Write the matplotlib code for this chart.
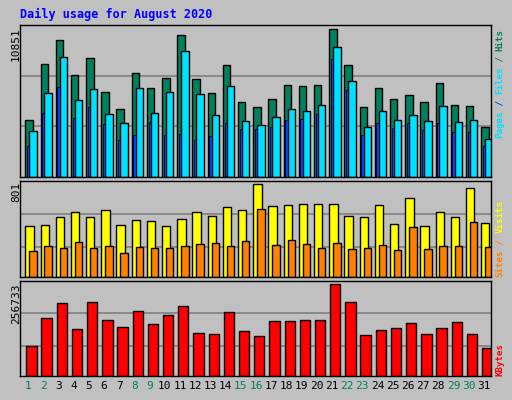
import matplotlib
matplotlib.use("Agg")
import matplotlib.pyplot as plt
import numpy as np

days = list(range(1, 32))
hits = [4223,8273,10041,7463,8715,6211,5033,7611,6506,7242,10409,7169,6138,8200,5548,5180,5696,6727,6653,6727,10851,8200,5180,6506,5696,5990,5548,6874,5327,5254,3707]
files = [3412,6138,8789,5622,6432,4664,4002,6506,4738,6211,9231,6064,4591,6653,4149,3854,4444,5033,4885,5327,9525,7021,3707,4885,4223,4591,4149,5254,4075,4223,2823]
pages = [2259,4738,6579,4370,5180,3928,2750,3118,4075,3118,3192,2750,3044,4002,3560,3560,3707,4223,4296,4664,8642,6358,3118,4002,3633,4002,3486,4002,3339,3339,2308]
visits = [435,444,514,557,514,575,444,488,479,435,496,557,522,601,575,801,609,618,627,627,627,522,514,618,453,679,435,557,514,766,461]
sites = [218,261,244,296,244,261,200,252,244,244,261,279,287,261,305,583,270,313,279,244,287,235,244,270,226,427,235,261,261,470,252]
kbytes = [85267,161164,203329,130243,206140,155542,135865,180841,144298,169597,194896,118999,116188,178030,124621,110566,152731,152731,155542,155542,256733,206140,113377,127432,133054,147109,116188,133054,149920,116188,79645]
weekend = [1,2,8,9,15,16,22,23,29,30]

W, H = 512, 400
fig = plt.figure(figsize=(W/100, H/100), dpi=100)
fig.patch.set_facecolor('#C0C0C0')
mono = 'DejaVu Sans Mono'

def ax_at(x0, y0, x1, y1):
    a = fig.add_axes([x0/W, 1-y1/H, (x1-x0)/W, (y1-y0)/H])
    a.set_facecolor('#C0C0C0')
    a.set_xlim(0.5, 31.5)
    a.set_xticks([]); a.set_yticks([])
    for s in a.spines.values():
        s.set_color('black'); s.set_linewidth(1)
    return a

x = np.array(days)
ek = dict(edgecolor='black', linewidth=1, align='edge')

a1 = ax_at(20, 25, 491, 177)
top1 = 11170
a1.set_ylim(0, top1)
for g in (top1/3, 2*top1/3):
    a1.axhline(g, color='#808080', lw=1.2, zorder=0)
a1.bar(x-0.15, hits, 0.49, color='#00805C', **ek)
a1.bar(x+0.11, files, 0.49, color='#00E0FF', **ek)
a1.bar(x-0.04, pages, 0.15, color='#0040FF', edgecolor='black', linewidth=0.6, align='edge')

a2 = ax_at(20, 180.5, 491, 276.5)
top2 = 833
a2.set_ylim(0, top2)
for g in (top2*0.31, top2*0.655):
    a2.axhline(g, color='#808080', lw=1.2, zorder=0)
a2.bar(x-0.15, visits, 0.55, color='#FFFF00', **ek)
a2.bar(x+0.11, sites, 0.49, color='#FF8000', **ek)

a3 = ax_at(20, 280.5, 491, 376)
top3 = 267000
a3.set_ylim(0, top3)
for g in (top3*0.31, top3*0.655):
    a3.axhline(g, color='#808080', lw=1.2, zorder=0)
a3.bar(x-0.09, kbytes, 0.68, color='#FF0000', **ek)

for d in days:
    a3.text(d+0.03, -0.10, str(d), transform=a3.get_xaxis_transform(), ha='center', va='center',
            fontsize=8, family=mono, color='#00805C' if d in weekend else 'black')

fig.text(20/W, 1-14/H, 'Daily usage for August 2020', color='#0000FF', fontsize=8.5,
         family=mono, fontweight='bold', va='center')

def ylab(txt, ytop):
    fig.text(16/W, 1-ytop/H, txt, rotation=90, ha='center', va='top', fontsize=8, family=mono)
ylab('10851', 27)
ylab('801', 182)
ylab('256733', 284)

CH = 5.45
def rlab(parts, ybottom):
    y = ybottom
    for t, c in parts:
        fig.text(500/W, 1-y/H, t, rotation=90, ha='center', va='bottom', fontsize=6.6,
                 family=mono, fontweight='bold', color=c)
        y -= len(t)*CH
rlab([('Pages', '#00E0FF'), (' / ', '#0040FF'), ('Files', '#00E0FF'), (' / ', '#00805C'), ('Hits', '#00805C')], 138)
rlab([('Sites', '#FF8000'), (' / ', '#FF8000'), ('Visits', '#FFFF00')], 277)
rlab([('KBytes', '#FF0000')], 376)

fig.savefig('out.png', dpi=100, facecolor=fig.get_facecolor())
